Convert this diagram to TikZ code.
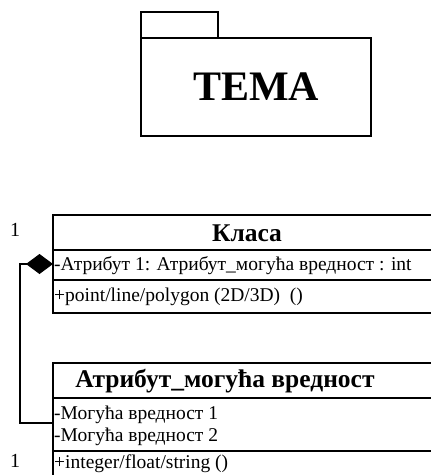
\documentclass[tikz,border=0pt]{standalone}
\usepackage{fontspec}
\setmainfont{Liberation Serif}
\usetikzlibrary{arrows.meta}
\tikzset{
  box/.style={draw=black, line width=1.2pt, anchor=north west, inner sep=0pt, outer sep=0pt},
  rowtext/.style={anchor=west, inner sep=0pt, font=\fontsize{19.5}{22}\selectfont},
  titletext/.style={inner sep=0pt, font=\fontsize{25.5}{28}\selectfont\bfseries},
  mult/.style={inner sep=0pt, font=\fontsize{20}{22}\selectfont},
  conn/.style={draw=black, line width=1.2pt},
}
\begin{document}
\begin{tikzpicture}[x=1pt, y=-1pt]
\useasboundingbox (0,0) rectangle (431,475);
\clip (0,0) rectangle (431,475);
% package
\node[box, minimum width=77pt, minimum height=26pt] (tab) at (141,12) {};
\node[box, minimum width=230pt, minimum height=98pt] (pkg) at (141,38) {};
\node[inner sep=0pt, font=\fontsize{42}{44}\selectfont\bfseries] (tema) at (pkg.center) {TEMA};
% class Класа
\node[box, minimum width=400pt, minimum height=35pt] (k1) at (53,215) {};
\node[box, minimum width=400pt, minimum height=30pt] (k2) at (53,250) {};
\node[box, minimum width=400pt, minimum height=33pt] (k3) at (53,280) {};
\node[titletext] (k1t) at (247,233) {Класа};
\node[rowtext] (k2t) at (54,266) {-Атрибут 1: Атрибут\_могућа вредност : int};
\node[rowtext] (k3t) at (54,297) {+point/line/polygon (2D/3D)\ \ ()};
% class Атрибут_могућа вредност
\node[box, minimum width=400pt, minimum height=35pt] (a1) at (53,363) {};
\node[box, minimum width=400pt, minimum height=53pt] (a2) at (53,398) {};
\node[box, minimum width=400pt, minimum height=40pt] (a3) at (53,451) {};
\node[titletext] (a1t) at (225,381) {Атрибут\_могућа вредност};
\node[rowtext] (a2t) at (54,415) {-Могућа вредност 1};
\node[rowtext] (a2u) at (54,437) {-Могућа вредност 2};
\node[rowtext] (a3t) at (54,464) {+integer/float/string ()};
% multiplicities
\node[mult] (m1) at (15,230) {1};
\node[mult] (m2) at (15,461) {1};
% composition connector
\coordinate (c1) at (20,264);
\coordinate (c2) at (53,264);
\coordinate (c3) at (53,423);
\draw[conn, {Diamond[length=27pt, width=20pt, fill=black]}-] (c2) -- (c1) |- (c3);
\end{tikzpicture}
\end{document}
